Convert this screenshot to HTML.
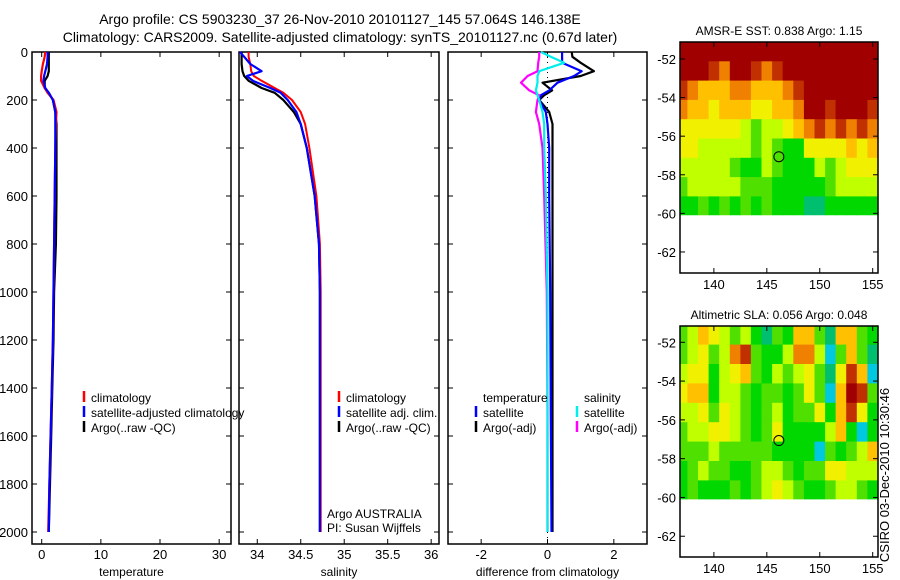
<!DOCTYPE html>
<html><head><meta charset="utf-8"><style>
body{margin:0;background:#fff;}
svg{display:block;font-family:"Liberation Sans",sans-serif;}
</style></head><body>
<svg id="fig" width="900" height="580" xmlns="http://www.w3.org/2000/svg">
<rect width="900" height="580" fill="#fff"/>
<text x="340" y="24" font-size="14" text-anchor="middle">Argo profile: CS 5903230_37 26-Nov-2010 20101127_145 57.064S 146.138E</text>
<text x="340" y="42" font-size="14" text-anchor="middle">Climatology: CARS2009. Satellite-adjusted climatology: synTS_20101127.nc (0.67d later)</text>
<text transform="translate(889,475) rotate(-90)" font-size="13" text-anchor="middle">CSIRO 03-Dec-2010 10:30:46</text>
<g id="plots"></g>
</svg>
<script>
// ---- profile data ----
const depthT = [0,20,50,80,100,120,150,170,200,250,300,400,600,800,1000,1200,1400,1600,1800,2000];
const tempClim = [0.6,0.5,0.2,0,-0.1,-0.1,0.5,1.0,2.0,2.5,2.4,2.3,2.2,2.1,2.0,1.9,1.7,1.5,1.3,1.1];
const tempSat = [1.0,1.0,0.9,0.6,0.4,0.3,0.6,1.2,1.9,2.3,2.3,2.3,2.2,2.1,2.0,1.9,1.7,1.5,1.3,1.2];
const tempArgo = [1.2,1.2,1.2,1.2,1.0,0.5,0.5,1.2,1.9,2.3,2.5,2.5,2.5,2.4,2.1,2.0,1.8,1.6,1.4,1.2];
const salClim = [33.9,33.9,33.92,33.93,33.96,34.05,34.2,34.3,34.4,34.5,34.55,34.6,34.68,34.72,34.73,34.73,34.73,34.73,34.73,34.73];
const salSat = [33.8,33.85,33.92,34.05,33.88,33.95,34.15,34.27,34.35,34.45,34.5,34.57,34.66,34.71,34.72,34.72,34.72,34.72,34.72,34.72];
const salArgo = [33.82,33.82,33.82,33.83,33.85,33.9,34.05,34.2,34.3,34.42,34.5,34.57,34.66,34.71,34.72,34.72,34.72,34.72,34.72,34.72];
const depthD = [0,20,45,80,100,128,160,180,200,250,300,400,600,1000,1500,2000];
const dTempSat = [0.44,0.44,0.44,1.03,0.8,0.3,0.05,-0.2,-0.25,-0.05,0.0,0.05,0.05,0.08,0.1,0.12];
const dTempArgo = [0.73,0.75,1.0,1.4,1.0,-0.15,0.14,-0.1,-0.25,0.05,0.15,0.15,0.15,0.15,0.15,0.15];
const dSalSat = [-0.2,0.1,0.5,-0.25,-0.3,-0.3,-0.35,-0.3,-0.25,-0.15,-0.1,-0.1,-0.05,0.0,0.0,0.0];
const dSalArgo = [-0.25,-0.25,-0.28,-0.3,-0.6,-0.8,-0.55,-0.25,-0.3,-0.35,-0.25,-0.15,-0.1,-0.02,0.0,0.0];
const depthTicks = [0,200,400,600,800,1000,1200,1400,1600,1800,2000];
const tempTicks = [0,10,20,30];
const salTicks = [34,34.5,35,35.5,36];
const diffTicks = [-2,0,2];
// ---- map data (rows of 1 deg from -51.12 southward, cols lon 137..155), colour level 0..10 ----
const mapLons = [137,138,139,140,141,142,143,144,145,146,147,148,149,150,151,152,153,154,155];
const mapRowTops = [-51.12,-52.12,-53.12,-54.12,-55.12,-56.12,-57.12,-58.12,-59.12,-60.12];
const sstLevels = [
[10,10,10,10,10,10,10,10,10,10,10,10,10,10,10,10,10,10,10],
[10,10,10,9,8,10,10,9,8,9,10,10,10,10,10,10,10,10,10],
[9,8,7,7,7,8,8,7,7,7,8,9,10,10,10,10,10,10,10],
[8,7,7,6,7,7,7,6,6,7,7,8,10,10,9,10,10,10,9],
[6,6,6,6,6,6,5,4,5,5,6,7,8,9,8,9,8,9,8],
[6,6,5,5,5,5,5,4,5,4,3,3,6,6,6,6,7,6,7],
[5,5,5,5,5,4,3,3,5,4,3,3,3,5,4,5,6,6,6],
[4,5,5,5,5,5,4,4,4,3,3,3,3,3,4,5,5,5,5],
[3,3,4,3,4,3,4,3,4,3,3,3,2,2,3,3,3,3,3],
[3,3,3,3,3,3,3,3,3,3,3,2,2,2,3,3,3,3,3]];
const slaLevels = [
[4,5,7,6,5,4,5,3,2,4,3,7,7,4,2,7,7,4,3],
[4,5,6,4,5,8,9,4,3,3,5,8,8,5,1,4,7,4,2],
[5,6,6,3,5,6,7,4,3,5,4,5,6,4,2,6,9,7,1],
[6,7,7,3,5,5,4,3,4,4,3,4,6,4,1,7,10,9,4],
[5,5,6,4,6,5,4,3,4,5,3,4,4,6,3,7,9,6,3],
[4,5,5,6,6,5,4,3,4,6,3,3,3,3,5,7,3,1,3],
[4,4,4,5,4,4,4,4,4,3,3,3,3,1,4,3,4,5,7],
[3,4,5,4,4,3,3,4,5,5,4,3,4,4,6,6,5,5,5],
[3,4,3,3,3,4,3,4,5,6,5,4,3,3,4,5,5,4,3],
[3,3,3,3,2,3,3,4,5,4,4,3,3,3,4,4,5,4,3]];
const lonTicks = [140,145,150,155];
const latTicks = [-52,-54,-56,-58,-60,-62];
const argoLon = 146.138, argoLat = -57.064;

const NS = "http://www.w3.org/2000/svg";
const root = document.getElementById('plots');
function mk(tag, attrs, parent){const e=document.createElementNS(NS,tag);for(const k in attrs)e.setAttribute(k,attrs[k]);(parent||root).appendChild(e);return e;}
function txt(x,y,s,size,anchor,parent){const t=mk('text',{x:x,y:y,'font-size':size,'text-anchor':anchor||'middle'},parent);t.textContent=s;return t;}

const top0=52, bot0=544, yPerM=0.24;
function yD(d){return top0+d*yPerM;}

function panel(name,x0,x1,xmin,xmax,xticks,xlabel,leftLabels){
  const g=mk('g',{});
  
  
  const sx=v=>x0+(v-xmin)/(xmax-xmin)*(x1-x0);
  const r=mk('rect',{x:x0,y:top0,width:x1-x0,height:bot0-top0,fill:'none',stroke:'#000','stroke-width':1.5},g);
  
  
  for(const d of depthTicks){
    mk('line',{x1:x0,x2:x0+5,y1:yD(d),y2:yD(d),stroke:'#000'},g);
    mk('line',{x1:x1,x2:x1-5,y1:yD(d),y2:yD(d),stroke:'#000'},g);
    if(leftLabels){const t=txt(x0-4,yD(d)+5,String(d),13,'end',g);
      
      }
  }
  for(const v of xticks){
    mk('line',{x1:sx(v),x2:sx(v),y1:top0,y2:top0+5,stroke:'#000'},g);
    mk('line',{x1:sx(v),x2:sx(v),y1:bot0,y2:bot0-5,stroke:'#000'},g);
    const t=txt(sx(v),559,String(v),13,'middle',g);
    
    
  }
  const lab=txt((x0+x1)/2,576,xlabel,12,'middle',g);
  
  
  return {g,sx};
}
function series(p,depths,vals,color,name,w){
  let d='';
  vals.forEach((v,i)=>{d+=(i?'L':'M')+p.sx(v).toFixed(1)+' '+yD(depths[i]).toFixed(1);});
  const e=mk('path',{d:d,fill:'none',stroke:color,'stroke-width':w||2.2,'stroke-linejoin':'round'},p.g);
  
  
}
function legend(g,x,y,color,label,name){
  if(color) mk('line',{x1:x,x2:x,y1:y-11,y2:y,stroke:color,'stroke-width':2.5},g);
  const t=txt(x+7,y,label,12,'start',g);
  
  
}

const pT=panel('temperature',32,231,-1.64,32,tempTicks,'temperature',true);
series(pT,depthT,tempArgo,'#000','temp-argo-line');
series(pT,depthT,tempClim,'#f00','temp-climatology-line');
series(pT,depthT,tempSat,'#00f','temp-satellite-line');
legend(pT.g,84,402,'#f00','climatology','legend-climatology');
legend(pT.g,84,417,'#00f','satellite-adjusted climatology','legend-satellite');
legend(pT.g,84,432,'#000','Argo(..raw -QC)','legend-argo');

const pS=panel('salinity',239,439,33.79,36.09,salTicks,'salinity',false);
series(pS,depthT,salArgo,'#000','sal-argo-line');
series(pS,depthT,salClim,'#f00','sal-climatology-line',2);
series(pS,depthT,salSat,'#00f','sal-satellite-line');
legend(pS.g,339,402,'#f00','climatology','legend-sal-climatology');
legend(pS.g,339,417,'#00f','satellite adj. clim.','legend-sal-satellite');
legend(pS.g,339,432,'#000','Argo(..raw -QC)','legend-sal-argo');
const a1=txt(327,518,'Argo AUSTRALIA',12,'start',pS.g);


const a2=txt(327,532,'PI: Susan Wijffels',12,'start',pS.g);



const pD=panel('difference',448,647,-3,3,diffTicks,'difference from climatology',false);
const zl=mk('line',{x1:pD.sx(0),x2:pD.sx(0),y1:top0,y2:bot0,stroke:'#000','stroke-dasharray':'1 4'},pD.g);


series(pD,depthD,dTempArgo,'#000','diff-temp-argo-line');
series(pD,depthD,dTempSat,'#00f','diff-temp-satellite-line');
series(pD,depthD,dSalArgo,'#f0f','diff-sal-argo-line');
series(pD,depthD,dSalSat,'#0ee','diff-sal-satellite-line');
legend(pD.g,476,402,null,'temperature','legend-temperature-header');
legend(pD.g,476,417,'#00f','satellite','legend-diff-temp-satellite');
legend(pD.g,476,432,'#000','Argo(-adj)','legend-diff-temp-argo');
legend(pD.g,577,402,null,'salinity','legend-salinity-header');
legend(pD.g,577,417,'#0ee','satellite','legend-diff-sal-satellite');
legend(pD.g,577,432,'#f0f','Argo(-adj)','legend-diff-sal-argo');

const palette=['#0000ff','#00c8e0','#00c070','#00d800','#50e000','#c0ff00','#f0f000','#ffc000','#f08000','#c03000','#a00000'];
function map(name,top,bottom,lat0,lat1,levels,title){
  const g=mk('g',{});
  
  
  const x0=680,x1=878,lon0=136.8,lon1=155.5;
  const sx=v=>x0+(v-lon0)/(lon1-lon0)*(x1-x0);
  const sy=v=>top+(v-lat0)/(lat1-lat0)*(bottom-top);
  const clipId=name+'-clip';
  const cp=mk('clipPath',{id:clipId},g);
  mk('rect',{x:x0,y:top,width:x1-x0,height:sy(-60.1)-top},cp);
  const cells=mk('g',{'clip-path':'url(#'+clipId+')'},g);
  levels.forEach((row,i)=>row.forEach((lv,j)=>{
    const lon=mapLons[j], lt=mapRowTops[i];
    const c=mk('rect',{x:sx(lon-0.5).toFixed(1),y:sy(lt).toFixed(1),width:(sx(lon+0.5)-sx(lon-0.5)+0.6).toFixed(1),height:(sy(lt-1)-sy(lt)+0.6).toFixed(1),fill:palette[lv]},cells);
    
    
  }));
  const f=mk('rect',{x:x0,y:top,width:x1-x0,height:bottom-top,fill:'none',stroke:'#000','stroke-width':1.5},g);
  
  
  for(const v of lonTicks){
    mk('line',{x1:sx(v),x2:sx(v),y1:top,y2:top+5,stroke:'#000'},g);
    mk('line',{x1:sx(v),x2:sx(v),y1:bottom,y2:bottom-5,stroke:'#000'},g);
    const t=txt(sx(v),bottom+16,String(v),13,'middle',g);
    
    
  }
  for(const v of latTicks){
    mk('line',{x1:x0,x2:x0+5,y1:sy(v),y2:sy(v),stroke:'#000'},g);
    mk('line',{x1:x1,x2:x1-5,y1:sy(v),y2:sy(v),stroke:'#000'},g);
    const t=txt(x0-4,sy(v)+5,String(v),13,'end',g);
    
    
  }
  const c=mk('circle',{cx:sx(argoLon),cy:sy(argoLat),r:5,fill:'none',stroke:'#000'},g);
  
  
  const t=txt(779,top-7,title,12,'middle',g);
  
  
}
map('sst',42,273,-51.12,-63.09,sstLevels,'AMSR-E SST: 0.838 Argo: 1.15');
map('sla',326,557,-51.16,-63.07,slaLevels,'Altimetric SLA: 0.056 Argo: 0.048');
</script>
</body></html>
